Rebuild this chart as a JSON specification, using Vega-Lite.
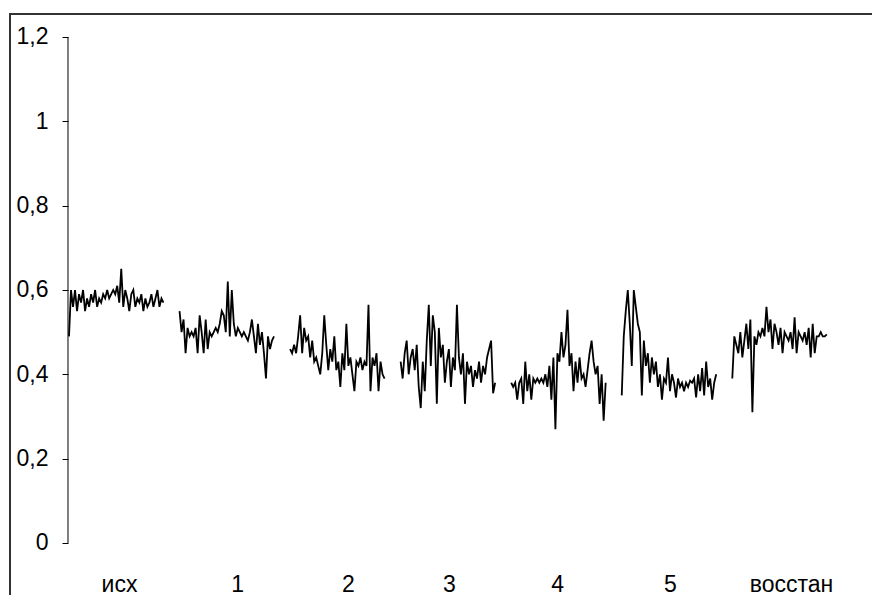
{
"$schema": "https://vega.github.io/schema/vega-lite/v6.json",
"width": 880,
"height": 600,
"autosize": {"type": "none"},
"padding": {"left": 10, "top": 14, "right": 0, "bottom": 0},
"background": "white",
"config": {"view": {"stroke": "#333333", "strokeWidth": 2}, "font": "Liberation Sans"},
"data": {"values": [
{"g":0,"t":0,"v":0.49},{"g":0,"t":1,"v":0.60},{"g":0,"t":2,"v":0.56},{"g":0,"t":3,"v":0.60},{"g":0,"t":4,"v":0.55},{"g":0,"t":5,"v":0.59},{"g":0,"t":6,"v":0.57},{"g":0,"t":7,"v":0.60},{"g":0,"t":8,"v":0.55},{"g":0,"t":9,"v":0.58},
{"g":0,"t":10,"v":0.56},{"g":0,"t":11,"v":0.59},{"g":0,"t":12,"v":0.57},{"g":0,"t":13,"v":0.60},{"g":0,"t":14,"v":0.56},{"g":0,"t":15,"v":0.58},{"g":0,"t":16,"v":0.57},{"g":0,"t":17,"v":0.59},{"g":0,"t":18,"v":0.58},{"g":0,"t":19,"v":0.60},
{"g":0,"t":20,"v":0.58},{"g":0,"t":21,"v":0.59},{"g":0,"t":22,"v":0.60},{"g":0,"t":23,"v":0.59},{"g":0,"t":24,"v":0.61},{"g":0,"t":25,"v":0.57},{"g":0,"t":26,"v":0.65},{"g":0,"t":27,"v":0.56},{"g":0,"t":28,"v":0.60},{"g":0,"t":29,"v":0.58},
{"g":0,"t":30,"v":0.55},{"g":0,"t":31,"v":0.59},{"g":0,"t":32,"v":0.60},{"g":0,"t":33,"v":0.56},{"g":0,"t":34,"v":0.58},{"g":0,"t":35,"v":0.57},{"g":0,"t":36,"v":0.59},{"g":0,"t":37,"v":0.55},{"g":0,"t":38,"v":0.58},{"g":0,"t":39,"v":0.56},
{"g":0,"t":40,"v":0.57},{"g":0,"t":41,"v":0.59},{"g":0,"t":42,"v":0.56},{"g":0,"t":43,"v":0.58},{"g":0,"t":44,"v":0.60},{"g":0,"t":45,"v":0.56},{"g":0,"t":46,"v":0.58},{"g":0,"t":47,"v":0.57},
{"g":1,"t":55,"v":0.55},{"g":1,"t":56,"v":0.50},{"g":1,"t":57,"v":0.53},{"g":1,"t":58,"v":0.45},{"g":1,"t":59,"v":0.51},{"g":1,"t":60,"v":0.49},{"g":1,"t":61,"v":0.50},{"g":1,"t":62,"v":0.49},{"g":1,"t":63,"v":0.51},{"g":1,"t":64,"v":0.45},
{"g":1,"t":65,"v":0.54},{"g":1,"t":66,"v":0.50},{"g":1,"t":67,"v":0.45},{"g":1,"t":68,"v":0.53},{"g":1,"t":69,"v":0.46},{"g":1,"t":70,"v":0.50},{"g":1,"t":71,"v":0.49},{"g":1,"t":72,"v":0.50},{"g":1,"t":73,"v":0.51},{"g":1,"t":74,"v":0.50},
{"g":1,"t":75,"v":0.52},{"g":1,"t":76,"v":0.55},{"g":1,"t":77,"v":0.54},{"g":1,"t":78,"v":0.50},{"g":1,"t":79,"v":0.62},{"g":1,"t":80,"v":0.49},{"g":1,"t":81,"v":0.60},{"g":1,"t":82,"v":0.52},{"g":1,"t":83,"v":0.49},{"g":1,"t":84,"v":0.51},
{"g":1,"t":85,"v":0.50},{"g":1,"t":86,"v":0.49},{"g":1,"t":87,"v":0.50},{"g":1,"t":88,"v":0.49},{"g":1,"t":89,"v":0.48},{"g":1,"t":90,"v":0.50},{"g":1,"t":91,"v":0.53},{"g":1,"t":92,"v":0.49},{"g":1,"t":93,"v":0.45},{"g":1,"t":94,"v":0.52},
{"g":1,"t":95,"v":0.47},{"g":1,"t":96,"v":0.50},{"g":1,"t":97,"v":0.45},{"g":1,"t":98,"v":0.39},{"g":1,"t":99,"v":0.49},{"g":1,"t":100,"v":0.46},{"g":1,"t":101,"v":0.48},{"g":1,"t":102,"v":0.49},
{"g":2,"t":110,"v":0.46},{"g":2,"t":111,"v":0.45},{"g":2,"t":112,"v":0.47},{"g":2,"t":113,"v":0.45},{"g":2,"t":114,"v":0.49},{"g":2,"t":115,"v":0.54},{"g":2,"t":116,"v":0.45},{"g":2,"t":117,"v":0.51},{"g":2,"t":118,"v":0.48},{"g":2,"t":119,"v":0.49},
{"g":2,"t":120,"v":0.44},{"g":2,"t":121,"v":0.48},{"g":2,"t":122,"v":0.43},{"g":2,"t":123,"v":0.44},{"g":2,"t":124,"v":0.42},{"g":2,"t":125,"v":0.40},{"g":2,"t":126,"v":0.45},{"g":2,"t":127,"v":0.54},{"g":2,"t":128,"v":0.47},{"g":2,"t":129,"v":0.41},
{"g":2,"t":130,"v":0.46},{"g":2,"t":131,"v":0.43},{"g":2,"t":132,"v":0.49},{"g":2,"t":133,"v":0.41},{"g":2,"t":134,"v":0.43},{"g":2,"t":135,"v":0.37},{"g":2,"t":136,"v":0.45},{"g":2,"t":137,"v":0.41},{"g":2,"t":138,"v":0.52},{"g":2,"t":139,"v":0.42},
{"g":2,"t":140,"v":0.44},{"g":2,"t":141,"v":0.40},{"g":2,"t":142,"v":0.36},{"g":2,"t":143,"v":0.43},{"g":2,"t":144,"v":0.42},{"g":2,"t":145,"v":0.44},{"g":2,"t":146,"v":0.41},{"g":2,"t":147,"v":0.43},{"g":2,"t":148,"v":0.42},{"g":2,"t":149,"v":0.565},
{"g":2,"t":150,"v":0.36},{"g":2,"t":151,"v":0.44},{"g":2,"t":152,"v":0.42},{"g":2,"t":153,"v":0.45},{"g":2,"t":154,"v":0.36},{"g":2,"t":155,"v":0.43},{"g":2,"t":156,"v":0.40},{"g":2,"t":157,"v":0.39},
{"g":3,"t":165,"v":0.43},{"g":3,"t":166,"v":0.39},{"g":3,"t":167,"v":0.45},{"g":3,"t":168,"v":0.48},{"g":3,"t":169,"v":0.40},{"g":3,"t":170,"v":0.44},{"g":3,"t":171,"v":0.46},{"g":3,"t":172,"v":0.41},{"g":3,"t":173,"v":0.47},{"g":3,"t":174,"v":0.37},
{"g":3,"t":175,"v":0.32},{"g":3,"t":176,"v":0.43},{"g":3,"t":177,"v":0.36},{"g":3,"t":178,"v":0.48},{"g":3,"t":179,"v":0.565},{"g":3,"t":180,"v":0.42},{"g":3,"t":181,"v":0.54},{"g":3,"t":182,"v":0.50},{"g":3,"t":183,"v":0.33},{"g":3,"t":184,"v":0.51},
{"g":3,"t":185,"v":0.44},{"g":3,"t":186,"v":0.47},{"g":3,"t":187,"v":0.38},{"g":3,"t":188,"v":0.43},{"g":3,"t":189,"v":0.46},{"g":3,"t":190,"v":0.37},{"g":3,"t":191,"v":0.44},{"g":3,"t":192,"v":0.41},{"g":3,"t":193,"v":0.565},{"g":3,"t":194,"v":0.44},
{"g":3,"t":195,"v":0.40},{"g":3,"t":196,"v":0.45},{"g":3,"t":197,"v":0.33},{"g":3,"t":198,"v":0.43},{"g":3,"t":199,"v":0.40},{"g":3,"t":200,"v":0.42},{"g":3,"t":201,"v":0.37},{"g":3,"t":202,"v":0.41},{"g":3,"t":203,"v":0.39},{"g":3,"t":204,"v":0.43},
{"g":3,"t":205,"v":0.38},{"g":3,"t":206,"v":0.42},{"g":3,"t":207,"v":0.40},{"g":3,"t":208,"v":0.44},{"g":3,"t":209,"v":0.46},{"g":3,"t":210,"v":0.48},{"g":3,"t":211,"v":0.355},{"g":3,"t":212,"v":0.38},
{"g":4,"t":220,"v":0.38},{"g":4,"t":221,"v":0.37},{"g":4,"t":222,"v":0.38},{"g":4,"t":223,"v":0.34},{"g":4,"t":224,"v":0.38},{"g":4,"t":225,"v":0.39},{"g":4,"t":226,"v":0.33},{"g":4,"t":227,"v":0.43},{"g":4,"t":228,"v":0.36},{"g":4,"t":229,"v":0.40},
{"g":4,"t":230,"v":0.34},{"g":4,"t":231,"v":0.39},{"g":4,"t":232,"v":0.38},{"g":4,"t":233,"v":0.39},{"g":4,"t":234,"v":0.38},{"g":4,"t":235,"v":0.39},{"g":4,"t":236,"v":0.38},{"g":4,"t":237,"v":0.40},{"g":4,"t":238,"v":0.37},{"g":4,"t":239,"v":0.42},
{"g":4,"t":240,"v":0.34},{"g":4,"t":241,"v":0.44},{"g":4,"t":242,"v":0.27},{"g":4,"t":243,"v":0.45},{"g":4,"t":244,"v":0.43},{"g":4,"t":245,"v":0.50},{"g":4,"t":246,"v":0.44},{"g":4,"t":247,"v":0.47},{"g":4,"t":248,"v":0.553},{"g":4,"t":249,"v":0.42},
{"g":4,"t":250,"v":0.45},{"g":4,"t":251,"v":0.36},{"g":4,"t":252,"v":0.43},{"g":4,"t":253,"v":0.38},{"g":4,"t":254,"v":0.44},{"g":4,"t":255,"v":0.39},{"g":4,"t":256,"v":0.40},{"g":4,"t":257,"v":0.37},{"g":4,"t":258,"v":0.41},{"g":4,"t":259,"v":0.45},
{"g":4,"t":260,"v":0.48},{"g":4,"t":261,"v":0.43},{"g":4,"t":262,"v":0.40},{"g":4,"t":263,"v":0.42},{"g":4,"t":264,"v":0.33},{"g":4,"t":265,"v":0.40},{"g":4,"t":266,"v":0.29},{"g":4,"t":267,"v":0.38},
{"g":5,"t":275,"v":0.35},{"g":5,"t":276,"v":0.49},{"g":5,"t":277,"v":0.55},{"g":5,"t":278,"v":0.60},{"g":5,"t":279,"v":0.52},{"g":5,"t":280,"v":0.42},{"g":5,"t":281,"v":0.60},{"g":5,"t":282,"v":0.56},{"g":5,"t":283,"v":0.52},{"g":5,"t":284,"v":0.50},
{"g":5,"t":285,"v":0.35},{"g":5,"t":286,"v":0.48},{"g":5,"t":287,"v":0.42},{"g":5,"t":288,"v":0.45},{"g":5,"t":289,"v":0.38},{"g":5,"t":290,"v":0.44},{"g":5,"t":291,"v":0.40},{"g":5,"t":292,"v":0.43},{"g":5,"t":293,"v":0.37},{"g":5,"t":294,"v":0.40},
{"g":5,"t":295,"v":0.34},{"g":5,"t":296,"v":0.39},{"g":5,"t":297,"v":0.38},{"g":5,"t":298,"v":0.44},{"g":5,"t":299,"v":0.36},{"g":5,"t":300,"v":0.40},{"g":5,"t":301,"v":0.38},{"g":5,"t":302,"v":0.345},{"g":5,"t":303,"v":0.39},{"g":5,"t":304,"v":0.37},
{"g":5,"t":305,"v":0.38},{"g":5,"t":306,"v":0.36},{"g":5,"t":307,"v":0.38},{"g":5,"t":308,"v":0.37},{"g":5,"t":309,"v":0.385},{"g":5,"t":310,"v":0.38},{"g":5,"t":311,"v":0.39},{"g":5,"t":312,"v":0.345},{"g":5,"t":313,"v":0.40},{"g":5,"t":314,"v":0.36},
{"g":5,"t":315,"v":0.415},{"g":5,"t":316,"v":0.35},{"g":5,"t":317,"v":0.43},{"g":5,"t":318,"v":0.37},{"g":5,"t":319,"v":0.39},{"g":5,"t":320,"v":0.34},{"g":5,"t":321,"v":0.38},{"g":5,"t":322,"v":0.40},
{"g":6,"t":330,"v":0.39},{"g":6,"t":331,"v":0.49},{"g":6,"t":332,"v":0.47},{"g":6,"t":333,"v":0.45},{"g":6,"t":334,"v":0.50},{"g":6,"t":335,"v":0.44},{"g":6,"t":336,"v":0.48},{"g":6,"t":337,"v":0.52},{"g":6,"t":338,"v":0.46},{"g":6,"t":339,"v":0.53},
{"g":6,"t":340,"v":0.31},{"g":6,"t":341,"v":0.49},{"g":6,"t":342,"v":0.47},{"g":6,"t":343,"v":0.50},{"g":6,"t":344,"v":0.49},{"g":6,"t":345,"v":0.51},{"g":6,"t":346,"v":0.49},{"g":6,"t":347,"v":0.56},{"g":6,"t":348,"v":0.50},{"g":6,"t":349,"v":0.53},
{"g":6,"t":350,"v":0.46},{"g":6,"t":351,"v":0.52},{"g":6,"t":352,"v":0.50},{"g":6,"t":353,"v":0.47},{"g":6,"t":354,"v":0.51},{"g":6,"t":355,"v":0.45},{"g":6,"t":356,"v":0.50},{"g":6,"t":357,"v":0.49},{"g":6,"t":358,"v":0.48},{"g":6,"t":359,"v":0.50},
{"g":6,"t":360,"v":0.46},{"g":6,"t":361,"v":0.535},{"g":6,"t":362,"v":0.45},{"g":6,"t":363,"v":0.50},{"g":6,"t":364,"v":0.49},{"g":6,"t":365,"v":0.48},{"g":6,"t":366,"v":0.50},{"g":6,"t":367,"v":0.47},{"g":6,"t":368,"v":0.51},{"g":6,"t":369,"v":0.44},
{"g":6,"t":370,"v":0.52},{"g":6,"t":371,"v":0.45},{"g":6,"t":372,"v":0.49},{"g":6,"t":373,"v":0.49},{"g":6,"t":374,"v":0.50},{"g":6,"t":375,"v":0.49},{"g":6,"t":376,"v":0.49},{"g":6,"t":377,"v":0.495}
]},
"layer": [
{
"mark": {"type": "line", "color": "black", "strokeWidth": 1.8},
"encoding": {
"x": {"field": "t", "type": "quantitative",
"scale": {"domain": [-29.35, 408.46], "nice": false, "zero": false},
"axis": {"orient": "bottom", "offset": -71, "domain": false, "ticks": false, "grid": false, "title": null,
"values": [24.9, 83.6, 138.8, 189, 242.8, 299, 359.2],
"labelExpr": "datum.value < 50 ? 'исх' : datum.value < 110 ? '1' : datum.value < 160 ? '2' : datum.value < 215 ? '3' : datum.value < 270 ? '4' : datum.value < 330 ? '5' : 'восстан'",
"labelFontSize": 23, "labelPadding": 30, "labelColor": "black", "labelFlush": false, "labelOverlap": false}},
"y": {"field": "v", "type": "quantitative",
"scale": {"domain": [-0.1684, 1.2545], "nice": false, "zero": false},
"axis": {"offset": -58, "domain": false, "grid": false, "title": null,
"values": [0, 0.2, 0.4, 0.6, 0.8, 1, 1.2], "format": "~g",
"labelExpr": "replace(datum.label, '.', ',')",
"tickSize": 6, "tickColor": "black", "tickWidth": 1, "labelPadding": 14,
"labelFontSize": 23, "labelColor": "black", "labelFlush": false, "labelOverlap": false}},
"detail": {"field": "g"}
}
},
{
"data": {"values": [{"a": 0, "b": 1.2, "x": -0.5}]},
"mark": {"type": "rule", "color": "black", "strokeWidth": 1},
"encoding": {
"x": {"field": "x", "type": "quantitative"},
"y": {"field": "a", "type": "quantitative"},
"y2": {"field": "b"}
}
}
]
}
